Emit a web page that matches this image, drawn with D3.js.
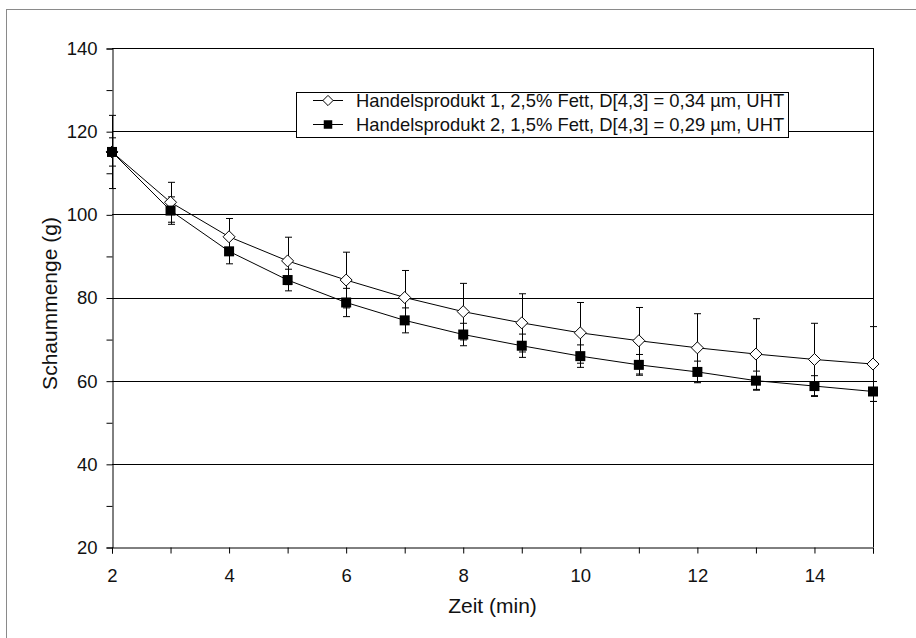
<!DOCTYPE html>
<html>
<head>
<meta charset="utf-8">
<script src="https://cdn.jsdelivr.net/npm/d3@7"></script>
<style>
  body { margin: 0; background: #fff; }
  svg { display: block; font-family: "Liberation Sans", Arial, sans-serif; }
</style>
</head>
<body>
<div id="chart"></div>
<script>
// data
const times = [2, 3, 4, 5, 6, 7, 8, 9, 10, 11, 12, 13, 14, 15];
const produkt1 = [115, 102.9, 94.6, 88.8, 84.2, 80.0, 76.6, 73.9, 71.5, 69.6, 67.9, 66.4, 65.1, 64.0];
const produkt1Err = [8.8, 4.8, 4.4, 5.7, 6.7, 6.5, 6.8, 7.0, 7.3, 8.0, 8.2, 8.5, 8.7, 9.0];
const produkt2 = [115, 100.9, 91.1, 84.2, 78.8, 74.5, 71.1, 68.4, 65.9, 63.8, 62.1, 60.0, 58.7, 57.4];
const produkt2Err = [3.4, 3.3, 3.0, 2.6, 3.4, 3.0, 2.7, 2.8, 2.7, 2.5, 2.6, 2.3, 2.5, 2.4];
const yTicks = [20, 40, 60, 80, 100, 120, 140];
const yMinorTicks = [30, 50, 70, 90, 110, 130];
const xTickLabels = [2, 4, 6, 8, 10, 12, 14];
const seriesNames = [
  "Handelsprodukt 1, 2,5% Fett, D[4,3] = 0,34 µm, UHT",
  "Handelsprodukt 2, 1,5% Fett, D[4,3] = 0,29 µm, UHT"
];

const width = 916, height = 638;
const plot = { left: 112, right: 873, top: 48, bottom: 547 };

const svg = d3.select("#chart").append("svg")
  .attr("width", width)
  .attr("height", height);

// outer chart frame (runs off the picture at right and bottom)
svg.append("rect")
  .attr("x", 6.5).attr("y", 9.5)
  .attr("width", 940).attr("height", 660)
  .attr("fill", "none")
  .attr("stroke", "#8a8a8a");

const x = d3.scaleLinear().domain([2, 15]).range([plot.left, plot.right]);
const y = d3.scaleLinear().domain([20, 140]).range([plot.bottom, plot.top]);

// gridlines
svg.append("g")
  .selectAll("line")
  .data(yTicks.filter(d => d > 20))
  .enter().append("line")
  .attr("x1", plot.left).attr("x2", plot.right)
  .attr("y1", d => Math.round(y(d)) + 0.5)
  .attr("y2", d => Math.round(y(d)) + 0.5)
  .attr("stroke", "#000");

// right border of plot area
svg.append("line")
  .attr("x1", plot.right + 0.5).attr("x2", plot.right + 0.5)
  .attr("y1", plot.top).attr("y2", plot.bottom)
  .attr("stroke", "#000");

// y axis
svg.append("g")
  .attr("transform", `translate(${plot.left + 0.5},0.5)`)
  .call(d3.axisLeft(y).tickValues(yTicks).tickSize(6).tickPadding(9));
svg.append("g")
  .attr("transform", `translate(${plot.left + 0.5},0.5)`)
  .call(d3.axisLeft(y).tickValues(yMinorTicks).tickSize(6).tickFormat(""))
  .select(".domain").remove();

// x axis
svg.append("g")
  .attr("transform", `translate(0,${plot.bottom + 0.5})`)
  .call(d3.axisBottom(x).tickValues(times).tickSize(6).tickPadding(15)
    .tickFormat(d => xTickLabels.includes(d) ? d : ""));

svg.selectAll(".domain").attr("stroke", "#000");
svg.selectAll(".tick line").attr("stroke", "#000");
svg.selectAll(".tick text")
  .attr("font-size", 18.5)
  .attr("fill", "#111")
  .attr("font-family", "\"Liberation Sans\", Arial, sans-serif");

// axis titles
svg.append("text")
  .attr("transform", `translate(57,${(plot.top + plot.bottom) / 2 + 6}) rotate(-90)`)
  .attr("text-anchor", "middle")
  .attr("font-size", 21)
  .attr("fill", "#111")
  .text("Schaummenge (g)");

svg.append("text")
  .attr("x", (plot.left + plot.right) / 2)
  .attr("y", 613)
  .attr("text-anchor", "middle")
  .attr("font-size", 21)
  .attr("fill", "#111")
  .text("Zeit (min)");

// series
const series = [
  { values: produkt1, err: produkt1Err, marker: "diamond" },
  { values: produkt2, err: produkt2Err, marker: "square" }
];

const line = d3.line()
  .x(d => x(d[0]))
  .y(d => y(d[1]));

function drawMarker(g, type, cx, cy, scale) {
  if (type === "diamond") {
    const r = 6 * scale;
    g.append("path")
      .attr("d", `M${cx},${cy - r}L${cx + r},${cy}L${cx},${cy + r}L${cx - r},${cy}Z`)
      .attr("fill", "#fff")
      .attr("stroke", "#000")
      .attr("stroke-width", 1);
  } else {
    const s = 10 * scale;
    g.append("rect")
      .attr("x", cx - s / 2).attr("y", cy - s / 2)
      .attr("width", s).attr("height", s)
      .attr("fill", "#000");
  }
}

series.forEach(s => {
  const pts = times.map((t, i) => [t, s.values[i], s.err[i]]);
  const g = svg.append("g");

  // error bars
  pts.forEach(p => {
    const cx = Math.round(x(p[0])) + 0.5;
    const y1 = y(p[1] + p[2]), y2 = y(p[1] - p[2]);
    g.append("line")
      .attr("x1", cx).attr("x2", cx)
      .attr("y1", y1).attr("y2", y2)
      .attr("stroke", "#000");
    [y1, y2].forEach(yy => {
      g.append("line")
        .attr("x1", cx - 3.5).attr("x2", cx + 3.5)
        .attr("y1", yy).attr("y2", yy)
        .attr("stroke", "#000");
    });
  });

  g.append("path")
    .datum(pts)
    .attr("d", line)
    .attr("fill", "none")
    .attr("stroke", "#000")
    .attr("stroke-width", 1);
});

// markers on top
series.forEach(s => {
  const g = svg.append("g");
  times.forEach((t, i) => drawMarker(g, s.marker, x(t), y(s.values[i]), 1));
});

// legend
const legend = svg.append("g");
legend.append("rect")
  .attr("x", 296.5).attr("y", 92.5)
  .attr("width", 492).attr("height", 45)
  .attr("fill", "#fff")
  .attr("stroke", "#000");

seriesNames.forEach((name, i) => {
  const ly = 100.5 + i * 24;
  legend.append("line")
    .attr("x1", 313).attr("x2", 343)
    .attr("y1", ly).attr("y2", ly)
    .attr("stroke", "#000");
  drawMarker(legend, series[i].marker, 328, ly, 0.85);
  legend.append("text")
    .attr("x", 356)
    .attr("y", ly + 6.5)
    .attr("font-size", 18.4)
    .attr("fill", "#111")
    .text(name);
});
</script>
</body>
</html>
